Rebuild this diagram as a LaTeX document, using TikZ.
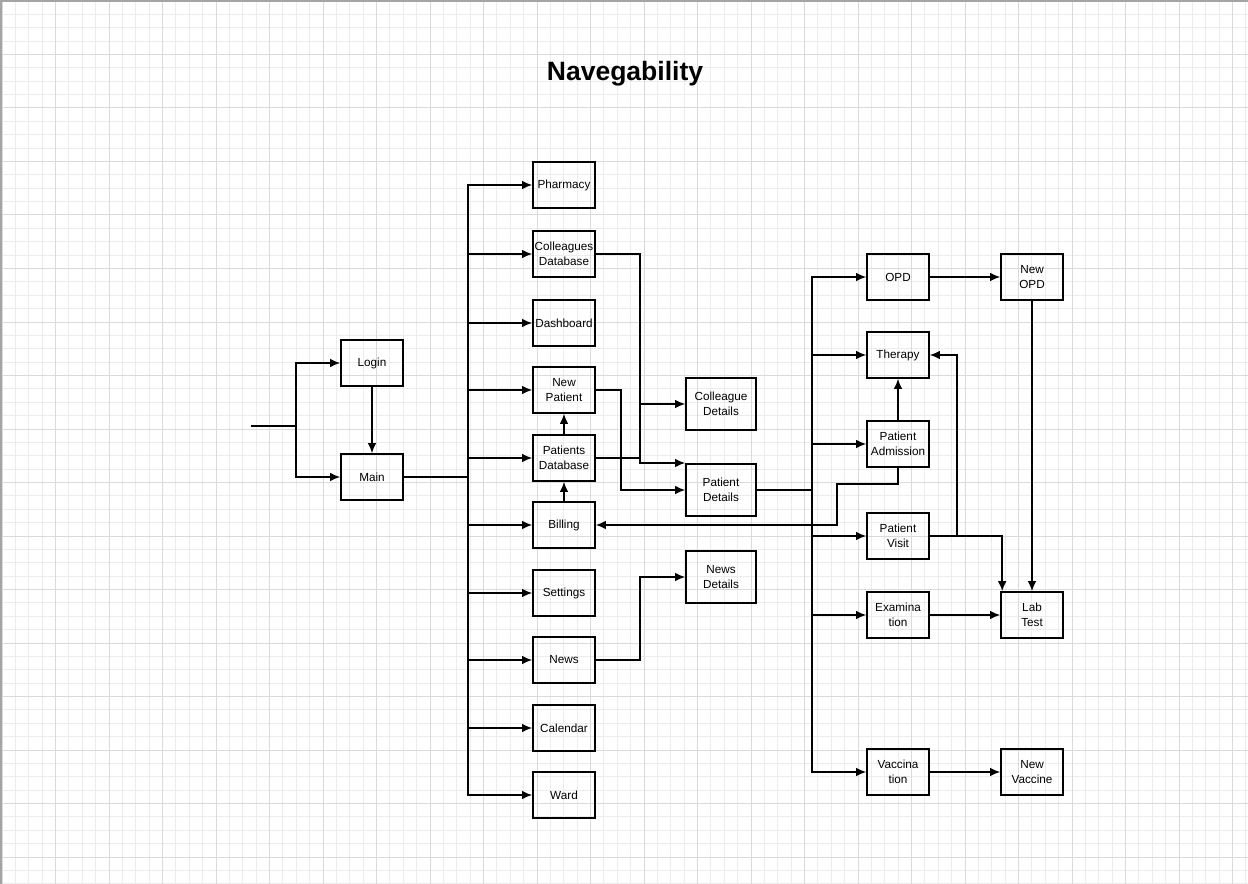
\documentclass[tikz,border=0pt]{standalone}
\usepackage{fontspec}
\setmainfont{Liberation Sans}
\usetikzlibrary{calc,
	positioning,
	arrows.meta}
\definecolor{gridmin}{HTML}{ECECEC}
\definecolor{gridmaj}{HTML}{DADADA}
\definecolor{frame}{HTML}{A4A4A4}
\tikzstyle{box}=[draw, line width=1.2pt, minimum width=46.5pt, minimum height=34.5pt,
		inner sep=1pt, align=center, font=\fontsize{8.8}{11.25}\selectfont]
\tikzstyle{wbox}=[box, minimum width=52.5pt, minimum height=39pt]
\tikzstyle{ln}=[line width=1.2pt]
\tikzstyle{arr}=[ln, -{Latex[length=7.5pt,width=6.5pt]}]

\begin{document}
\begin{tikzpicture}[x=0.75pt, y=-0.75pt]
                % paper and grid
                \useasboundingbox (0,0) rectangle (1248,884);
                \fill[white] (0,0) rectangle (1248,884);
                \foreach \i in {0,...,93} \draw[gridmin, line width=0.75pt] ({2+13.375*\i},0) -- ({2+13.375*\i},884);
                \foreach \i in {0,...,66} \draw[gridmin, line width=0.75pt] (0,{1+13.375*\i}) -- (1248,{1+13.375*\i});
                \foreach \i in {0,...,23} \draw[gridmaj, line width=0.75pt] ({2+53.5*\i},0) -- ({2+53.5*\i},884);
                \foreach \i in {0,...,16} \draw[gridmaj, line width=0.75pt] (0,{1+53.5*\i}) -- (1248,{1+53.5*\i});
                \draw[frame, line width=2pt] (1,884) -- (1,1) -- (1248,1);

                \node[font=\fontsize{19.9}{24}\selectfont\bfseries] (title) at (625,74) {Navegability};

                % entry
                \node[box] (login) at (372,363) {Login};
                \node[box] (main) at (372,477) {Main};

                % main menu
                \node[box] (pharm) at (564,185) {Pharmacy};
                \node[box] (colldb) at (564,254) {Colleagues\\Database};
                \node[box] (dash) at (564,323) {Dashboard};
                \node[box] (newpat) at (564,390) {New\\Patient};
                \node[box] (patdb) at (564,458) {Patients\\Database};
                \node[box] (bill) at (564,525) {Billing};
                \node[box] (sett) at (564,593) {Settings};
                \node[box] (news) at (564,660) {News};
                \node[box] (cal) at (564,728) {Calendar};
                \node[box] (ward) at (564,795) {Ward};

                % details
                \node[wbox] (colldet) at (721,404) {Colleague\\Details};
                \node[wbox] (patdet) at (721,490) {Patient\\Details};
                \node[wbox] (newsdet) at (721,577) {News\\Details};

                % patient menu
                \node[box] (opd) at (898,277) {OPD};
                \node[box] (ther) at (898,355) {Therapy};
                \node[box] (adm) at (898,444) {Patient\\Admission};
                \node[box] (visit) at (898,536) {Patient\\Visit};
                \node[box] (exam) at (898,615) {Examina\\tion};
                \node[box] (vacc) at (898,772) {Vaccina\\tion};

                \node[box] (newopd) at (1032,277) {New\\OPD};
                \node[box] (lab) at (1032,615) {Lab\\Test};
                \node[box] (newvac) at (1032,772) {New\\Vaccine};

                % entry arrows
                \coordinate (in) at (251,426);
                \draw[arr] (in) -- ++(45,0) |- (login.west);
                \draw[arr] (in) -- ++(45,0) |- (main.west);
                \draw[arr] (login.south) -- (main.north);

                % main bus
                \coordinate (bus) at (468,477);
                \draw[ln] (main.east) -- (bus);
                \foreach \n in {pharm,colldb,dash,newpat,patdb,bill,sett,news,cal,ward}
                    \draw[arr] (bus) |- (\n.west);

                \draw[arr] (patdb.north) -- (newpat.south);
                \draw[arr] (bill.north) -- (patdb.south);

                % details
                \coordinate (cbus) at (640,463);
                \draw[arr] (colldb.east) -| (cbus) -- (cbus -| patdet.west);
                \draw[arr] (cbus |- colldet) -- (colldet.west);
                \draw[ln] (patdb.east) -- (patdb.east -| cbus);
                \draw[arr] (newpat.east) -- ++(25,0) |- (patdet.west);
                \draw[arr] (news.east) -| (cbus |- newsdet) -- (newsdet.west);

                % patient bus
                \coordinate (rbus) at (812,490);
                \draw[ln] (patdet.east) -- (rbus);
                \foreach \n in {opd,ther,adm,visit,exam,vacc}
                    \draw[arr] (rbus) |- (\n.west);

                \draw[arr] (adm.north) -- (ther.south);
                \draw[arr] (adm.south) -- ++(0,16) -| ($(bill.east)+(241,0)$) -- (bill.east);
                \draw[arr] (visit.east) -| ($(ther.east)+(27,0)$) -- (ther.east);
                \draw[arr] (visit.east) -| ($(lab.north west)+(2,0)$);
                \draw[arr] (opd.east) -- (newopd.west);
                \draw[arr] (newopd.south) -- (lab.north);
                \draw[arr] (exam.east) -- (lab.west);
                \draw[arr] (vacc.east) -- (newvac.west);
\end{tikzpicture}
\end{document}
